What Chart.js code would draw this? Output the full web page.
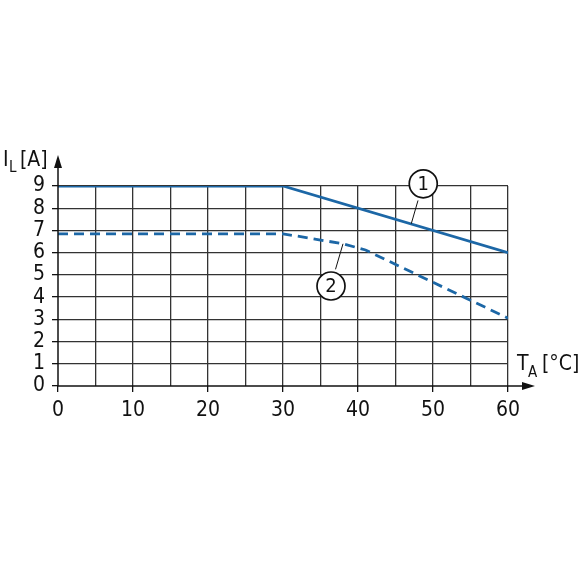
<!DOCTYPE html>
<html>
<head>
<meta charset="utf-8">
<script src="https://cdn.jsdelivr.net/npm/chart.js@4"></script>
<style>
  html, body { margin: 0; padding: 0; background: #fff; }
  #wrap { width: 580px; height: 580px; }
</style>
</head>
<body>
<div id="wrap"><canvas id="deratingChart" width="580" height="580"></canvas></div>
<script>
// Derating curves
const tempCurve1 = [0, 30, 60];
const current1 = [9, 9, 6];
const tempCurve2 = [0, 30, 38, 41, 60];
const current2 = [6.85, 6.85, 6.4, 6.12, 3.05];
const xTicks = [0, 10, 20, 30, 40, 50, 60];
const yTicks = [0, 1, 2, 3, 4, 5, 6, 7, 8, 9];

const FONT = '"Liberation Sans Narrow", "DejaVu Sans Condensed", "Roboto Condensed", sans-serif';
const BLUE = '#1c67a6';

// Axis arrows, axis titles and the numbered callouts
const decorations = {
    id: 'decorations',
    afterDraw(chart) {
        const { ctx, scales: { x, y } } = chart;
        const x0 = x.getPixelForValue(0);
        const y0 = y.getPixelForValue(0);
        ctx.save();
        ctx.strokeStyle = '#111';
        ctx.fillStyle = '#111';
        ctx.lineWidth = 1.5;

        // y arrow
        const yTop = y.getPixelForValue(9) - 31;
        ctx.beginPath();
        ctx.moveTo(x0, y0);
        ctx.lineTo(x0, yTop + 8);
        ctx.stroke();
        ctx.beginPath();
        ctx.moveTo(x0, yTop);
        ctx.lineTo(x0 - 4, yTop + 13);
        ctx.lineTo(x0 + 4, yTop + 13);
        ctx.closePath();
        ctx.fill();

        // x arrow
        const xEnd = x.getPixelForValue(60) + 27;
        ctx.beginPath();
        ctx.moveTo(x0, y0);
        ctx.lineTo(xEnd - 8, y0);
        ctx.stroke();
        ctx.beginPath();
        ctx.moveTo(xEnd, y0);
        ctx.lineTo(xEnd - 13, y0 - 4);
        ctx.lineTo(xEnd - 13, y0 + 4);
        ctx.closePath();
        ctx.fill();

        // axis titles
        ctx.textBaseline = 'alphabetic';
        ctx.textAlign = 'left';
        ctx.font = '21px ' + FONT;
        ctx.fillText('I', 3, 166);
        ctx.font = '15px ' + FONT;
        ctx.fillText('L', 9, 172);
        ctx.font = '21px ' + FONT;
        ctx.fillText('[A]', 20, 166);

        ctx.fillText('T', 517, 370);
        ctx.font = '15px ' + FONT;
        ctx.fillText('A', 528, 377);
        ctx.font = '21px ' + FONT;
        ctx.fillText('[°C]', 542, 370);

        // callouts
        const callout = (label, cx, cy, lx1, ly1, lx2, ly2) => {
            const px = x.getPixelForValue(cx);
            const py = y.getPixelForValue(cy);
            ctx.lineWidth = 1;
            ctx.beginPath();
            ctx.moveTo(x.getPixelForValue(lx1), y.getPixelForValue(ly1));
            ctx.lineTo(x.getPixelForValue(lx2), y.getPixelForValue(ly2));
            ctx.stroke();
            ctx.beginPath();
            ctx.arc(px, py, 14, 0, Math.PI * 2);
            ctx.fillStyle = '#fff';
            ctx.fill();
            ctx.lineWidth = 1.7;
            ctx.stroke();
            ctx.fillStyle = '#111';
            ctx.font = '20px ' + FONT;
            ctx.textAlign = 'center';
            ctx.textBaseline = 'middle';
            ctx.fillText(label, px, py + 1);
        };
        callout('1', 48.7, 9.1, 48.0, 8.35, 47.1, 7.3);
        callout('2', 36.4, 4.5, 37.0, 5.25, 38.0, 6.4);
        ctx.restore();
    }
};

new Chart(document.getElementById('deratingChart'), {
    type: 'scatter',
    data: {
        datasets: [{
            label: '1',
            data: tempCurve1.map((t, i) => ({ x: t, y: current1[i] })),
            showLine: true,
            borderColor: BLUE,
            borderWidth: 2.8,
            pointRadius: 0,
            tension: 0
        }, {
            label: '2',
            data: tempCurve2.map((t, i) => ({ x: t, y: current2[i] })),
            showLine: true,
            borderColor: BLUE,
            borderWidth: 2.8,
            borderDash: [10, 6],
            pointRadius: 0,
            tension: 0
        }]
    },
    options: {
        responsive: false,
        animation: false,
        layout: { padding: { top: 186, right: 72, bottom: 0, left: 0 } },
        plugins: { legend: { display: false }, tooltip: { enabled: false } },
        scales: {
            x: {
                type: 'linear',
                min: 0,
                max: 60,
                afterFit: s => { s.height = 194; },
                afterBuildTicks: s => {
                    const t = [];
                    for (let v = 0; v <= 60; v += 5) t.push({ value: v });
                    s.ticks = t;
                },
                ticks: {
                    autoSkip: false,
                    maxRotation: 0,
                    padding: 6,
                    color: '#111',
                    font: { family: FONT, size: 21 },
                    callback: v => xTicks.includes(v) ? String(v) : ''
                },
                grid: {
                    color: c => c.tick && c.tick.value === 0 ? 'transparent' : '#333',
                    lineWidth: 1.3,
                    tickLength: 6,
                    tickColor: c => c.tick && xTicks.includes(c.tick.value) ? '#111' : 'transparent'
                },
                border: { display: false }
            },
            y: {
                type: 'linear',
                min: 0,
                max: 9,
                afterFit: s => { s.width = 58; },
                afterBuildTicks: s => { s.ticks = yTicks.map(v => ({ value: v })); },
                ticks: {
                    autoSkip: false,
                    padding: 7,
                    color: '#111',
                    font: { family: FONT, size: 21, lineHeight: 1 }
                },
                grid: {
                    color: c => c.tick && c.tick.value === 0 ? 'transparent' : '#333',
                    lineWidth: 1.3,
                    tickLength: 6,
                    tickColor: '#111'
                },
                border: { display: false }
            }
        }
    },
    plugins: [decorations]
});
</script>
</body>
</html>
